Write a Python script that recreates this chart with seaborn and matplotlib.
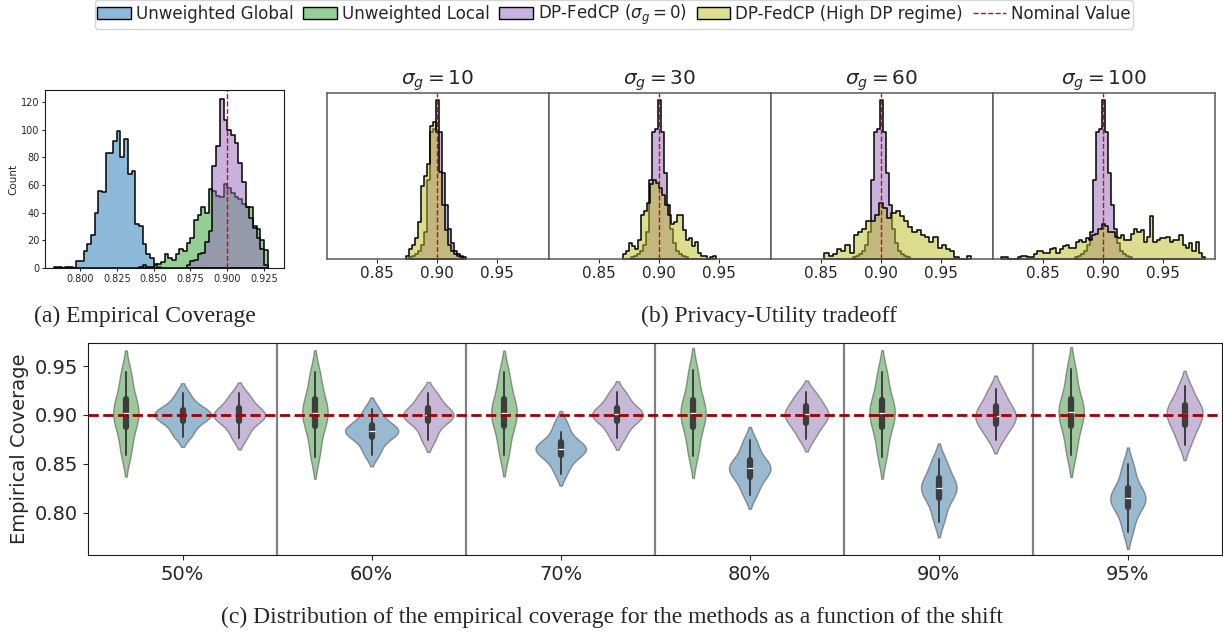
import numpy as np
import pandas as pd
import matplotlib
matplotlib.use("Agg")
import matplotlib.pyplot as plt
from matplotlib.patches import Patch
from matplotlib.lines import Line2D
from matplotlib.colors import to_rgba
import seaborn as sns

# ---------------- data ----------------
nominal = 0.90

# (a) empirical coverage histograms, bin width 0.0025, counts from first bin start
a_width = 0.0025
a_global_start = 0.7825
a_global = [1, 1, 0, 1, 1, 0, 5, 5, 12, 17, 24, 40, 56, 55, 83, 83, 92, 99, 80, 93,
            68, 70, 32, 30, 17, 10, 7, 3, 1]
a_local_start = 0.840
a_local = [1, 2, 1, 1, 2, 3, 4, 10, 7, 6, 10, 14, 12, 18, 22, 35, 38, 44, 40, 57,
           56, 52, 51, 61, 58, 54, 51, 50, 46, 44, 44, 30, 28, 20, 13]
a_dp_start = 0.8725
a_dp = [2, 5, 6, 10, 11, 19, 27, 74, 88, 122, 107, 100, 96, 90, 76, 62, 44, 36, 29,
        22, 14, 2]

# (b) privacy-utility tradeoff (relative counts, no y scale shown)
sigmas = [10, 30, 60, 100]
b_dp_start, b_dp_width = 0.87625, 0.0025
b_dp = [1, 2, 3, 5, 9, 17, 50, 80, 82, 100, 80, 54, 34, 19, 10, 5, 3, 2, 1]
b_high_start = [0.87375, 0.870, 0.8525, 0.815]
b_high_width = [0.0025, 0.0025, 0.0035, 0.0027]
b_high = [
    [2, 6, 9, 13, 23, 46, 52, 60, 84, 86, 80, 55, 34, 18, 9, 5, 3, 2, 1],
    [3, 5, 10, 8, 6, 12, 28, 30, 35, 47, 50, 48, 45, 40, 34, 28, 22, 23, 28, 28,
     18, 12, 13, 8, 11, 4, 2, 2, 0, 1, 2],
    [4, 2, 3, 6, 5, 9, 4, 15, 17, 19, 24, 24, 28, 35, 32, 26, 29, 30, 27, 24, 20,
     17, 18, 15, 14, 11, 14, 7, 9, 6, 5, 1, 0, 0, 2],
    [1, 1, 0, 0, 0, 1, 2, 2, 1, 1, 3, 5, 5, 4, 4, 6, 7, 4, 6, 8, 9, 7, 7, 11, 12,
     11, 13, 12, 15, 16, 19, 22, 21, 17, 17, 14, 13, 15, 12, 12, 16, 19, 17, 18,
     11, 14, 27, 11, 12, 13, 13, 14, 11, 12, 12, 15, 9, 7, 10, 5, 11, 4, 1],
]

# (c) coverage per shift: quantiles (p1, p5, p20, p30, p40, p50, p60, p70, p80, p95, p99)
shifts = ["50%", "60%", "70%", "80%", "90%", "95%"]
local_q = [
    [0.859, 0.868, 0.885, 0.891, 0.897, 0.902, 0.907, 0.913, 0.919, 0.936, 0.944],
    [0.857, 0.868, 0.885, 0.892, 0.897, 0.902, 0.907, 0.913, 0.919, 0.935, 0.944],
    [0.859, 0.869, 0.885, 0.892, 0.897, 0.902, 0.907, 0.913, 0.919, 0.935, 0.944],
    [0.858, 0.868, 0.884, 0.891, 0.897, 0.902, 0.907, 0.912, 0.919, 0.936, 0.946],
    [0.857, 0.868, 0.884, 0.891, 0.897, 0.902, 0.907, 0.912, 0.918, 0.935, 0.944],
    [0.859, 0.869, 0.885, 0.892, 0.898, 0.903, 0.908, 0.913, 0.919, 0.937, 0.947],
]
global_q = [
    [0.878, 0.884, 0.892, 0.895, 0.898, 0.900, 0.902, 0.904, 0.907, 0.913, 0.922],
    [0.859, 0.867, 0.875, 0.879, 0.882, 0.8837, 0.885, 0.888, 0.891, 0.899, 0.9065],
    [0.840, 0.850, 0.857, 0.861, 0.864, 0.8656, 0.867, 0.870, 0.874, 0.883, 0.892],
    [0.818, 0.826, 0.835, 0.839, 0.843, 0.8456, 0.848, 0.852, 0.856, 0.866, 0.874],
    [0.791, 0.802, 0.813, 0.818, 0.822, 0.8255, 0.829, 0.833, 0.838, 0.848, 0.855],
    [0.780, 0.792, 0.804, 0.808, 0.812, 0.815, 0.818, 0.822, 0.828, 0.840, 0.850],
]
dp_q = [
    [0.876, 0.884, 0.892, 0.895, 0.898, 0.900, 0.902, 0.905, 0.909, 0.916, 0.922],
    [0.874, 0.883, 0.892, 0.895, 0.898, 0.900, 0.902, 0.905, 0.909, 0.917, 0.922],
    [0.876, 0.884, 0.892, 0.895, 0.898, 0.9007, 0.903, 0.905, 0.909, 0.917, 0.923],
    [0.875, 0.883, 0.890, 0.893, 0.898, 0.9007, 0.903, 0.907, 0.911, 0.918, 0.923],
    [0.874, 0.882, 0.889, 0.892, 0.896, 0.8993, 0.903, 0.907, 0.911, 0.919, 0.927],
    [0.869, 0.879, 0.888, 0.891, 0.897, 0.9014, 0.905, 0.908, 0.912, 0.921, 0.930],
]

labels = ["Unweighted Global", "Unweighted Local", r"DP-FedCP ($\sigma_g = 0$)",
          "DP-FedCP (High DP regime)"]
colors = {"global": "tab:blue", "local": "tab:green", "dp": "tab:purple", "high": "tab:olive"}

# ---------------- style ----------------
sns.set_style("ticks", {"axes.edgecolor": "0.1"})
plt.rcParams['font.family'] = ['DejaVu Sans']
red = "#c01010"


def step_hist(ax, start, width, counts, color):
    counts = np.asarray(counts, dtype=float)
    edges = start + width * np.arange(len(counts) + 1)
    centers = (edges[:-1] + edges[1:]) / 2
    sns.histplot(x=centers, weights=counts, bins=list(edges), element="step", fill=True,
                 color=color, alpha=0.5, edgecolor="black", linewidth=1.1, ax=ax)


fig = plt.figure(figsize=(12.23, 6.34), dpi=100)

# ---- (a) ----
ax_a = fig.add_axes([0.0368, 0.5773, 0.1954, 0.2808])
step_hist(ax_a, a_global_start, a_width, a_global, colors["global"])
step_hist(ax_a, a_local_start, a_width, a_local, colors["local"])
step_hist(ax_a, a_dp_start, a_width, a_dp, colors["dp"])
ax_a.axvline(nominal, color=red, ls="--", lw=1)
ax_a.set_xlim(0.7762, 0.9386)
ax_a.set_ylim(0, 128.7)
ax_a.set_xticks([0.800, 0.825, 0.850, 0.875, 0.900, 0.925])
ax_a.set_xticklabels([f"{t:.3f}" for t in ax_a.get_xticks()])
ax_a.set_yticks(range(0, 121, 20))
ax_a.tick_params(labelsize=7, length=2.5, pad=1.5)
ax_a.set_ylabel("Count", fontsize=7.5, labelpad=2)
ax_a.set_xlabel("")

# ---- (b) ----
b_w = (0.9935 - 0.2674) / 4
for i, s in enumerate(sigmas):
    ax = fig.add_axes([0.2674 + i * b_w, 0.5915, b_w, 0.2618])
    step_hist(ax, b_dp_start, b_dp_width, b_dp, colors["dp"])
    step_hist(ax, b_high_start[i], b_high_width[i], b_high[i], colors["high"])
    ax.axvline(nominal, color=red, ls="--", lw=1)
    ax.set_xlim(0.808, 0.9933)
    ax.set_ylim(0, 104.5)
    ax.set_yticks([])
    ax.set_ylabel("")
    ax.set_xticks([0.85, 0.90, 0.95])
    ax.set_xticklabels(["0.85", "0.90", "0.95"])
    ax.tick_params(labelsize=11, length=3, pad=2)
    ax.set_title(rf"$\sigma_g = {s}$", fontsize=14.5, pad=3)
    for sp in ax.spines.values():
        sp.set_color("0.35")
        sp.set_linewidth(1.1)

# ---- (c) ----
rows = []
for sh, lq, gq, dq in zip(shifts, local_q, global_q, dp_q):
    rows += [(sh, "Unweighted Local", v) for v in lq]
    rows += [(sh, "Unweighted Global", v) for v in gq]
    rows += [(sh, "DP-FedCP", v) for v in dq]
df = pd.DataFrame(rows, columns=["shift", "method", "coverage"])

ax_c = fig.add_axes([0.072, 0.1246, 0.9275, 0.3344])
sns.violinplot(data=df, x="shift", y="coverage", hue="method", order=shifts,
               hue_order=["Unweighted Local", "Unweighted Global", "DP-FedCP"],
               palette=[colors["local"], colors["global"], colors["dp"]],
               width=0.9, alpha=0.5, linewidth=1, bw_adjust=0.85, cut=1.6,
               common_norm=True,
               inner_kws=dict(box_width=4.5, whis_width=1.4), legend=False, ax=ax_c)
for x in np.arange(0.5, len(shifts) - 1, 1.0):
    ax_c.axvline(x, color="gray", lw=1.6, zorder=0.5)
ax_c.axhline(nominal, color="#a00000", ls="--", lw=2, zorder=5)
ax_c.set_xlim(-0.5, len(shifts) - 0.5)
ax_c.set_ylim(0.757, 0.9735)
ax_c.set_yticks([0.80, 0.85, 0.90, 0.95])
ax_c.set_yticklabels(["0.80", "0.85", "0.90", "0.95"])
ax_c.tick_params(labelsize=14)
ax_c.set_xlabel("")
ax_c.set_ylabel("Empirical Coverage", fontsize=14)

# ---- legend ----
handles = [Patch(facecolor=to_rgba(colors[k], 0.5), edgecolor="black")
           for k in ["global", "local", "dp", "high"]]
handles.append(Line2D([0], [0], color=red, ls="--", lw=1))
fig.legend(handles, labels + ["Nominal Value"], loc="upper center",
           bbox_to_anchor=(0.502, 1.0), ncol=5, fontsize=12, frameon=True,
           borderpad=0.15, handletextpad=0.3, columnspacing=0.6, borderaxespad=0.0)

# ---- captions ----
cap = dict(family="Liberation Serif", fontsize=17, ha="center", va="center")
fig.text(0.1186, 0.5016, "(a) Empirical Coverage", **cap)
fig.text(0.629, 0.5016, "(b) Privacy-Utility tradeoff", **cap)
fig.text(0.5004, 0.0268,
         "(c) Distribution of the empirical coverage for the methods as a function of the shift",
         **cap)

fig.savefig("out.png", dpi=100)
